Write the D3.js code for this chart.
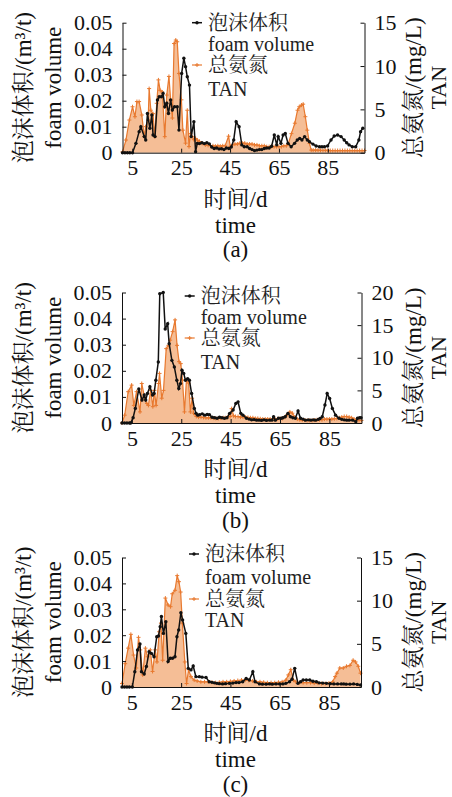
<!DOCTYPE html>
<html><head><meta charset="utf-8">
<script src="https://cdn.jsdelivr.net/npm/d3@7/dist/d3.min.js"></script>
<style>body{margin:0;background:#fff}svg{display:block}</style>
</head><body>
<svg id="chart" width="452" height="797"></svg>
<script>
// ---------- DATA ----------
const xTicks = [5, 25, 45, 65, 85];
const foamTicks = [0, 0.01, 0.02, 0.03, 0.04, 0.05];
const tanTicksA = [0, 5, 10, 15];
const tanTicksB = [0, 5, 10, 15, 20];
const tanTicksC = [0, 5, 10, 15];
const captions = ["(a)", "(b)", "(c)"];
const legendLabels = ["泡沫体积", "foam volume", "总氨氮", "TAN"];

// [day, foam volume m3/t]
const foamA = [[1,0],[2,0],[3,0],[4,0],[5.1,0],[6.5,0.0036],[7.8,0.0081],[8.5,0.010],[9.9,0.0062],[10.5,0.0049],[11.2,0.0151],[12.2,0.0094],[13.0,0.0145],[13.5,0.0068],[14.3,0.0062],[15.3,0.0203],[16.0,0.0215],[16.9,0.0215],[17.6,0.0228],[18.3,0.0177],[19.1,0.019],[19.8,0.0151],[20.7,0.0203],[21.4,0.0164],[22.3,0.0177],[23.4,0.0177],[24.1,0.0087],[25.2,0.0305],[26.1,0.0363],[26.8,0.0331],[27.5,0.0292],[28.4,0.026],[29.1,0.0062],[30.2,0.0119],[30.9,0.0004],[31.6,0.0036],[32.5,0.0035],[33.5,0.0038],[34.5,0.0035],[35.5,0.0038],[36.5,0.0034],[37.5,0.0022],[38.5,0.0016],[39.5,0.0018],[40.5,0.0014],[41.5,0.0015],[42.5,0.0012],[43.5,0.0018],[44.5,0.0016],[45.5,0.0022],[46.5,0.0049],[47.5,0.0119],[48.7,0.010],[49.8,0.003],[50.8,0.0023],[52,0.0023],[53,0.0016],[54,0.0012],[55,0.0008],[56,0.001],[57,0.0012],[58,0.0012],[59,0.0016],[60,0.0018],[61,0.0018],[62,0.0025],[63.1,0.0068],[64.1,0.003],[64.7,0.0062],[65.8,0.0036],[66.7,0.0068],[67.6,0.0074],[68.7,0.0036],[70.0,0.0023],[71.4,0.0036],[72.5,0.0049],[73.5,0.0055],[74.4,0.0049],[75.5,0.0062],[76.6,0.0049],[77.5,0.0042],[78.9,0.0033],[80.2,0.0026],[81.6,0.0023],[82.6,0.0023],[83.6,0.0023],[84.9,0.0026],[86.3,0.0049],[87.6,0.0064],[89.0,0.0068],[90.4,0.0062],[91.7,0.0049],[92.7,0.0038],[93.7,0.003],[95.0,0.0023],[96.4,0.0023],[97.7,0.0049],[98.4,0.0081],[99.3,0.0094]];
// [day, TAN mg/L]
const tanA = [[1,0.1],[2.4,1.46],[3.8,3.77],[5.1,5.3],[6.1,4.15],[6.9,5.9],[7.8,5.9],[8.9,4.35],[9.9,1.85],[10.5,3.0],[11.5,3.77],[11.9,7.4],[12.6,4.9],[13.5,4.5],[14.2,1.85],[15.0,5.7],[15.7,8.4],[16.4,7.2],[17.3,7.0],[18.3,1.85],[19.1,6.65],[20.0,8.8],[20.7,6.1],[21.4,4.0],[22.1,12.6],[22.8,13.0],[23.4,12.8],[24.1,9.15],[25.1,6.1],[25.7,2.6],[26.8,1.1],[27.5,4.9],[28.2,0.7],[28.8,2.2],[29.5,1.85],[30.2,1.5],[30.9,1.65],[31.6,1.46],[32.5,1.3],[33.6,1.08],[34.9,0.9],[36,0.85],[37,0.8],[38,0.8],[39,0.75],[40,0.8],[41,0.75],[42,0.8],[43,0.8],[44.4,1.9],[45.1,0.7],[46,0.9],[47,1.0],[48,1.0],[49,1.1],[50,1.1],[51,1.1],[52,1.0],[53,1.0],[54,1.0],[55,0.9],[56,0.9],[57,0.8],[58,0.8],[59,0.8],[60,0.7],[61,0.7],[62,0.7],[63,0.7],[64,0.7],[65,0.7],[66,0.7],[67,0.8],[68,0.8],[68.8,1.0],[70.1,2.2],[71.5,3.4],[72.6,4.9],[73.3,5.3],[74.2,5.5],[74.9,5.6],[75.8,4.15],[76.6,2.6],[77.5,1.08],[78.2,0.3],[79,0.3],[80,0.3],[81,0.3],[82,0.28],[83,0.28],[84,0.28],[85,0.28],[86,0.25],[87,0.25],[88,0.25],[89,0.25],[90,0.25],[91,0.25],[92,0.25],[93,0.25],[94,0.25],[95,0.25],[96,0.25],[97,0.25],[98,0.25],[99,0.25],[100,0.25]];

const foamB = [[1,0],[2,0],[3,0],[4,0],[4.5,0],[5.5,0.002],[6.4,0.0056],[7.8,0.013],[9.1,0.0088],[10.0,0.0107],[10.6,0.0088],[11.3,0.0113],[12.3,0.0139],[13.4,0.0107],[14.0,0.0113],[14.7,0.0164],[15.7,0.0234],[16.3,0.0495],[17.7,0.05],[18.5,0.036],[19.5,0.038],[20.1,0.0304],[21.2,0.024],[22.2,0.0215],[23.2,0.0164],[24.0,0.0132],[24.7,0.0151],[25.3,0.0202],[26.0,0.019],[26.7,0.0164],[27.6,0.017],[28.3,0.0164],[29.2,0.0113],[30.3,0.0056],[31.0,0.0037],[31.7,0.003],[32.4,0.0032],[33.5,0.0035],[34.5,0.003],[35.5,0.0033],[36.4,0.0032],[37.5,0.0022],[38.5,0.002],[39.5,0.0018],[40.5,0.0022],[41.5,0.002],[42.5,0.0018],[43.5,0.002],[44.6,0.0037],[46.0,0.005],[47.1,0.0075],[48.0,0.0081],[49.1,0.0037],[50.0,0.003],[51.4,0.0018],[52.5,0.0015],[53.5,0.0012],[54.5,0.0013],[55.5,0.0011],[56.5,0.0011],[57.5,0.001],[58.5,0.0012],[59.5,0.001],[60.8,0.0011],[61.7,0.0011],[62.4,0.0024],[63.1,0.0011],[64.4,0.0018],[65.5,0.0018],[66.2,0.002],[67.1,0.0024],[68.2,0.0037],[69.2,0.0024],[70.2,0.002],[71.2,0.0018],[72.3,0.0046],[73.3,0.0018],[74.3,0.0015],[75.3,0.0011],[76.5,0.0012],[77.5,0.0011],[78.5,0.0012],[79.4,0.0011],[80.5,0.0014],[81.2,0.0017],[82.1,0.0024],[83.2,0.0069],[84.1,0.0113],[85.1,0.0094],[86.2,0.0056],[87.5,0.003],[88.9,0.0018],[90,0.0014],[91,0.0012],[92,0.0011],[93,0.0011],[94.4,0.0011],[95.7,0.0005],[96.4,0.0018],[97.2,0.002],[97.8,0.002]];
const tanB = [[1,0],[2.1,1.2],[3.5,4.8],[4.9,5.8],[5.8,2.7],[6.9,4.8],[8.3,1.7],[9.0,6.05],[10.1,4.0],[11.1,3.0],[11.7,2.7],[12.6,5.0],[13.5,2.5],[14.1,5.0],[14.8,2.7],[15.8,6.05],[16.2,7.6],[17.1,3.8],[17.8,5.0],[18.9,11.4],[19.8,11.9],[20.5,12.7],[21.5,14.0],[22.5,15.8],[23.3,11.9],[24.1,9.4],[24.8,9.1],[25.5,6.6],[26.3,1.7],[27.1,6.6],[28.0,6.1],[28.7,1.7],[29.4,3.8],[30.0,1.5],[31.1,1.0],[32,0.9],[33,0.9],[34,0.85],[35,0.8],[36,0.8],[37,0.8],[38,0.75],[39,0.7],[40,0.7],[41,0.75],[42,0.8],[43,0.8],[44,1.0],[44.8,1.0],[45.4,2.2],[46.2,1.1],[47,1.0],[48,1.0],[49,0.9],[50,0.9],[51,0.9],[52,0.85],[53,0.8],[54,0.8],[55,0.7],[56,0.7],[57,0.65],[58,0.6],[59,0.6],[60,0.6],[61,0.6],[62,0.6],[63,0.6],[64,0.65],[65,0.7],[66,0.7],[67,0.9],[68,1.3],[69,1.7],[70,1.5],[71,0.9],[72,0.6],[73,0.5],[74,0.45],[75,0.45],[76,0.4],[77,0.4],[78,0.4],[79,0.45],[80,0.5],[81,0.5],[82,0.5],[83,0.6],[84,0.6],[85,0.6],[86,0.6],[87,0.65],[88,0.7],[89,0.8],[90,0.9],[91,1.0],[92,1.0],[93,0.9],[94,0.8],[95,0.6],[96,0.5],[97,0.4],[98,0.4]];

const foamC = [[1,0],[2,0],[3,0],[4,0],[5.2,0],[6.2,0.0059],[7.3,0.0143],[8.3,0.0166],[8.9,0.0059],[10.0,0.005],[10.9,0.0079],[12.0,0.0136],[12.9,0.013],[14.0,0.0117],[15.1,0.0194],[15.8,0.0197],[16.5,0.0233],[17.0,0.0272],[17.8,0.0207],[18.8,0.0252],[19.7,0.0098],[20.6,0.0111],[21.5,0.0111],[22.5,0.0117],[23.3,0.0194],[24.0,0.022],[24.9,0.0287],[25.6,0.0259],[26.9,0.0207],[27.9,0.0072],[29.0,0.0066],[29.9,0.0081],[31.0,0.004],[32.4,0.004],[33.5,0.0038],[35.1,0.0037],[36.4,0.002],[37.5,0.0018],[38.5,0.0016],[39.5,0.0014],[40.5,0.0013],[41.8,0.0012],[43,0.0013],[44.6,0.0014],[46,0.0015],[47.3,0.0017],[48.5,0.0017],[50.0,0.002],[51.4,0.0033],[52.7,0.0027],[54.1,0.0059],[55.0,0.002],[56.8,0.0012],[58,0.0011],[59.5,0.0011],[60.9,0.0012],[62,0.0011],[63.5,0.0012],[65,0.0012],[66.3,0.0012],[67.5,0.0014],[69.0,0.002],[70,0.003],[71.1,0.0072],[72.4,0.0014],[73.5,0.002],[74.5,0.0027],[75.8,0.0027],[77.2,0.0027],[78.5,0.0022],[79.9,0.002],[81,0.0016],[82.5,0.0015],[84.0,0.0014],[85.5,0.0013],[87,0.0012],[88.5,0.0012],[90,0.0012],[91,0.0012],[92,0.0011],[93.5,0.0011],[95,0.0012],[96.5,0.001],[97.8,0.0008]];
const tanC = [[1,0.4],[2.3,2.7],[3.5,4.5],[4.6,6.1],[5.7,3.7],[6.8,2.2],[7.7,5.75],[8.4,4.3],[9.4,1.4],[10.5,4.5],[11.4,3.5],[12.5,4.3],[13.4,1.8],[14.5,4.3],[15.2,2.9],[16.1,6.4],[16.8,7.4],[17.5,3.1],[18.6,10.3],[19.7,9.5],[20.7,9.3],[21.4,10.8],[22.5,11.2],[23.4,12.9],[24.1,12.2],[24.8,11.0],[25.5,7.4],[26.5,2.9],[27.2,0.4],[28.0,2.0],[29.0,1.2],[30.3,0.8],[31.5,0.7],[33,0.6],[34.5,0.6],[36,0.6],[37.5,0.55],[39,0.5],[40.5,0.55],[42,0.6],[43.5,0.6],[45,0.65],[46.5,0.7],[48,0.75],[49.5,0.8],[51,0.8],[52.5,0.75],[54,0.7],[55.5,0.6],[57,0.6],[58.5,0.55],[60,0.5],[61.5,0.5],[63,0.5],[64.5,0.55],[66,0.6],[67.5,0.8],[68.5,1.4],[69.5,2.0],[70.6,0.8],[71.5,0.6],[73,0.5],[74.5,0.5],[76,0.5],[77.5,0.5],[79,0.45],[80.5,0.45],[82,0.4],[83.5,0.4],[85,0.45],[86.5,0.6],[87.5,1.2],[88.2,1.6],[89.4,2.2],[90.8,2.2],[92.1,2.4],[93.5,2.5],[94.8,3.1],[95.8,2.9],[96.9,2.4],[97.8,1.6]];

// ---------- LAYOUT / STYLE ----------
const SERIF = '"Liberation Serif","Times New Roman","Noto Serif CJK SC","Noto Sans CJK SC",serif';
const ORANGE = "#E8792F", FILL = "#F5BE96", BLACK = "#111";
const panels = [
  {top:22.7, bottom:152.7, left:122.5, right:364.5, xMax:100, tanMax:15, tanTicks:tanTicksA, legX:208, legY:[22.7,43.5,65,88.5], foam:foamA, tan:tanA, cap:captions[0]},
  {top:292.5, bottom:423, left:122, right:361.5, xMax:98, tanMax:20, tanTicks:tanTicksB, legX:200.7, legY:[296,317,338,361.5], foam:foamB, tan:tanB, cap:captions[1]},
  {top:557.5, bottom:687, left:122, right:361, xMax:98, tanMax:15, tanTicks:tanTicksC, legX:205, legY:[554,576.5,599,620], foam:foamC, tan:tanC, cap:captions[2]}
];

const svg = d3.select("#chart");

function styleAxis(g){
  g.attr("font-size", null).attr("font-family", null);
  g.selectAll(".domain").attr("stroke", BLACK).attr("stroke-width", 1);
  g.selectAll(".tick line").attr("stroke", BLACK).attr("stroke-width", 1);
  g.selectAll(".tick text").attr("fill", BLACK).style("font-family", SERIF).style("font-size", "22px");
}

panels.forEach(p => {
  const g = svg.append("g");
  const x = d3.scaleLinear().domain([1, p.xMax]).range([p.left, p.right]);
  const yL = d3.scaleLinear().domain([0, 0.05]).range([p.bottom, p.top]);
  const yR = d3.scaleLinear().domain([0, p.tanMax]).range([p.bottom, p.top]);

  // area + TAN line
  g.append("path").datum(p.tan)
    .attr("fill", FILL)
    .attr("d", d3.area().x(d => x(d[0])).y0(yR(0)).y1(d => yR(d[1])));
  g.append("path").datum(p.tan)
    .attr("fill", "none").attr("stroke", ORANGE).attr("stroke-width", 1.2)
    .attr("d", d3.line().x(d => x(d[0])).y(d => yR(d[1])));
  g.append("g").selectAll("path").data(p.tan).join("path")
    .attr("transform", d => `translate(${x(d[0])},${yR(d[1])})`)
    .attr("d", "M-2,0H2M0,-2V2").attr("stroke", ORANGE).attr("stroke-width", 1);

  // foam line
  g.append("path").datum(p.foam)
    .attr("fill", "none").attr("stroke", BLACK).attr("stroke-width", 1.5)
    .attr("d", d3.line().x(d => x(d[0])).y(d => yL(d[1])));
  g.append("g").selectAll("circle").data(p.foam).join("circle")
    .attr("cx", d => x(d[0])).attr("cy", d => yL(d[1])).attr("r", 1.7).attr("fill", BLACK);

  // axes
  g.append("g").attr("transform", `translate(${p.left},0)`)
    .call(d3.axisLeft(yL).tickValues(foamTicks).tickFormat(d => d === 0 ? "0" : d.toFixed(2))
      .tickSizeInner(-4).tickSizeOuter(0).tickPadding(10)).call(styleAxis);
  g.append("g").attr("transform", `translate(${p.right},0)`)
    .call(d3.axisRight(yR).tickValues(p.tanTicks).tickFormat(d3.format("d"))
      .tickSizeInner(-4).tickSizeOuter(0).tickPadding(10)).call(styleAxis);
  g.append("g").attr("transform", `translate(0,${p.bottom})`)
    .call(d3.axisBottom(x).tickValues(xTicks).tickFormat(d3.format("d"))
      .tickSizeInner(-4).tickSizeOuter(0).tickPadding(7)).call(styleAxis);

  // axis titles
  const midY = (p.top + p.bottom) / 2;
  const txt = (tx, ty, s, rot, size) => g.append("text")
    .attr("transform", `translate(${tx},${ty})` + (rot ? " rotate(-90)" : ""))
    .attr("text-anchor", "middle").attr("fill", BLACK)
    .style("font-family", SERIF).style("font-size", (size || 23) + "px").text(s);
  txt(31, midY, "泡沫体积/(m³/t)", true);
  txt(61, midY, "foam volume", true);
  txt(421, midY, "总氨氮/(mg/L)", true);
  txt(446, midY, "TAN", true, 22);
  txt(235.5, p.bottom + 54, "时间/d");
  txt(235.5, p.bottom + 80, "time");
  txt(235.5, p.bottom + 104.5, p.cap);

  // legend
  const lx = p.legX;
  g.append("line").attr("x1", lx - 16).attr("x2", lx - 6).attr("y1", p.legY[0]).attr("y2", p.legY[0])
    .attr("stroke", BLACK).attr("stroke-width", 1.5);
  g.append("circle").attr("cx", lx - 11).attr("cy", p.legY[0]).attr("r", 1.7).attr("fill", BLACK);
  g.append("line").attr("x1", lx - 16).attr("x2", lx - 6).attr("y1", p.legY[2]).attr("y2", p.legY[2])
    .attr("stroke", ORANGE).attr("stroke-width", 1.2);
  g.append("path").attr("transform", `translate(${lx - 11},${p.legY[2]})`)
    .attr("d", "M-2,0H2M0,-2V2").attr("stroke", ORANGE);
  legendLabels.forEach((s, i) => {
    g.append("text").attr("x", lx).attr("y", p.legY[i]).attr("dominant-baseline", "central")
      .attr("fill", "#222").style("font-family", SERIF).style("font-size", "20px").text(s);
  });
});
</script>
</body></html>
